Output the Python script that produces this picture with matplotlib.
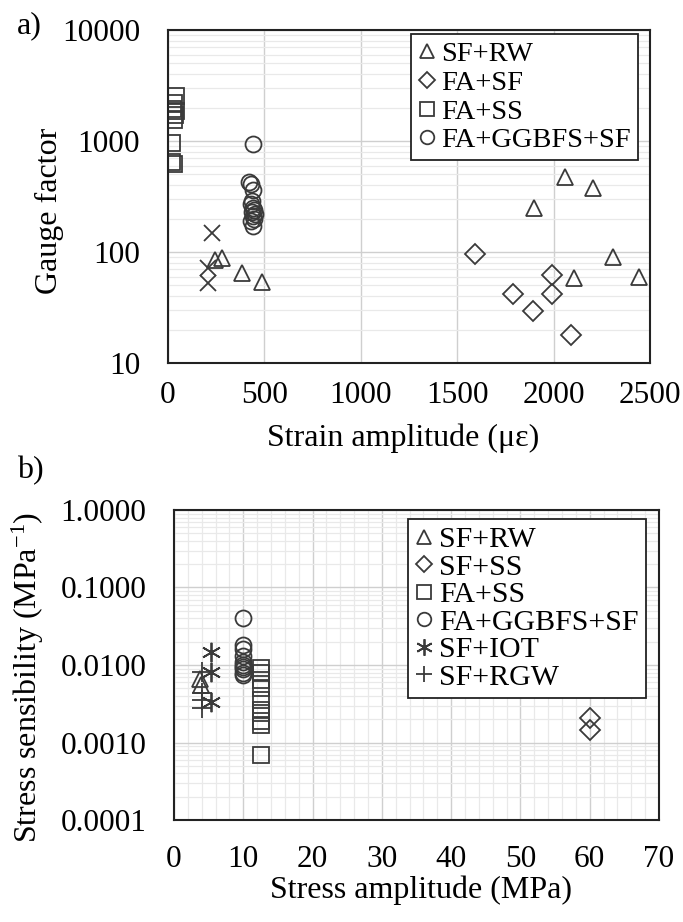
import matplotlib

matplotlib.use("Agg")
import matplotlib.pyplot as plt
from matplotlib.ticker import FixedLocator, LogLocator, MultipleLocator, NullFormatter

plt.rcParams["font.family"] = ["Liberation Serif", "DejaVu Serif"]
plt.rcParams["mathtext.fontset"] = "custom"
plt.rcParams["mathtext.rm"] = "Liberation Serif"
plt.rcParams["mathtext.it"] = "Liberation Serif:italic"

# (a) gauge factor vs strain amplitude
sf_rw_strain = [244, 280, 384, 487, 1898, 2059, 2204, 2308, 2106, 2443]
sf_rw_gf = [85, 88, 65, 54, 249, 474, 377, 90, 58, 60]
fa_sf_strain = [1592, 1992, 1790, 1992, 1893, 2090]
fa_sf_gf = [96, 62, 42, 42, 29.4, 17.9]
fa_ss_strain = [40, 30, 25, 40, 35, 30, 20, 20, 30]
fa_ss_gf = [2550, 2200, 1950, 1850, 1700, 1550, 950, 650, 620]
ggbfs_strain = [440, 420, 430, 440, 435, 430, 440, 445, 435, 450, 440, 445, 430, 440]
ggbfs_gf = [930, 430, 410, 360, 290, 270, 250, 240, 230, 220, 210, 200, 190, 170]
other_strain = [228, 207, 208]
other_gf = [148, 72, 52.5]

# (b) stress sensibility vs stress amplitude
sf_rw_stress = [3.8, 3.9]
sf_rw_sens = [0.0065, 0.0056]
sf_ss_stress = [60, 60]
sf_ss_sens = [0.0021, 0.00145]
fa_ss_stress = [12.5] * 10
fa_ss_sens = [0.0091, 0.0079, 0.0064, 0.0050, 0.0035, 0.0026, 0.0024, 0.0019, 0.0017, 0.00069]
ggbfs_stress = [10] * 10
ggbfs_sens = [0.040, 0.018, 0.016, 0.013, 0.011, 0.010, 0.0095, 0.009, 0.008, 0.0075]
sf_iot_stress = [5.3, 5.3, 5.3]
sf_iot_sens = [0.0147, 0.0081, 0.0033]
sf_rgw_stress = [4.0, 4.0, 4.0, 4.0]
sf_rgw_sens = [0.0081, 0.0043, 0.0035, 0.0028]

EDGE = "#3a3a3a"
TICK_FS = 22.5
LABEL_FS = 23


def hollow(marker, ms):
    return dict(
        linestyle="none",
        marker=marker,
        markersize=ms,
        markerfacecolor="none",
        markeredgecolor=EDGE,
        markeredgewidth=1.3,
    )


def style_axes(ax, minor_x):
    ax.set_yscale("log")
    ax.yaxis.set_minor_locator(LogLocator(base=10, subs=range(2, 10)))
    ax.yaxis.set_minor_formatter(NullFormatter())
    ax.grid(True, which="major", color="#cfcfcf", lw=1.0)
    ax.grid(True, which="minor", axis="y", color="#e9e9e9", lw=0.9)
    if minor_x:
        ax.grid(True, which="minor", axis="x", color="#e9e9e9", lw=0.9)
    ax.set_axisbelow(True)
    ax.tick_params(which="both", length=0, labelsize=TICK_FS)
    for s in ax.spines.values():
        s.set_linewidth(1.5)
        s.set_color("#222222")


def boxed_legend(ax, x_px, y_px, fs, spacing):
    leg = ax.legend(
        loc="upper left",
        bbox_to_anchor=(x_px / 683, 1 - y_px / 922),
        bbox_transform=fig.transFigure,
        borderaxespad=0,
        fontsize=fs,
        markerscale=0.85,
        handlelength=0.6,
        handletextpad=0.2,
        labelspacing=spacing,
        borderpad=0.25,
        fancybox=False,
        framealpha=1,
        edgecolor="#222222",
    )
    leg.get_frame().set_linewidth(1.3)
    return leg


fig = plt.figure(figsize=(6.83, 9.22), dpi=100)

# panel a
ax1 = fig.add_axes([168 / 683, 1 - 363 / 922, 482 / 683, 333 / 922])
ax1.plot(sf_rw_strain, sf_rw_gf, label="SF+RW", **hollow("^", 12))
ax1.plot(fa_sf_strain, fa_sf_gf, label="FA+SF", **hollow("D", 10))
ax1.plot(fa_ss_strain, fa_ss_gf, label="FA+SS", **hollow("s", 11.5))
ax1.plot(ggbfs_strain, ggbfs_gf, label="FA+GGBFS+SF", **hollow("o", 11.5))
ax1.plot(other_strain, other_gf, label="_nolegend_", **hollow("x", 12))
style_axes(ax1, minor_x=False)
ax1.set_xlim(0, 2500)
ax1.set_ylim(10, 10000)
ax1.xaxis.set_major_locator(MultipleLocator(500))
ax1.yaxis.set_major_locator(FixedLocator([10, 100, 1000, 10000]))
ax1.set_yticklabels(["10", "100", "1000", "10000"])
ax1.tick_params(axis="y", pad=20)
ax1.tick_params(axis="x", pad=13)
boxed_legend(ax1, 411, 34, 20.5, 0.1)

fig.text(29 / 683, 1 - 26 / 922, "a)", fontsize=LABEL_FS, ha="center", va="center")
fig.text(49 / 683, 1 - 211 / 922, "Gauge factor", fontsize=LABEL_FS,
         rotation=90, ha="center", va="center")
fig.text(403 / 683, 1 - 438 / 922, "Strain amplitude (\u03bc\u03b5)", fontsize=LABEL_FS,
         ha="center", va="center")

# panel b
ax2 = fig.add_axes([174 / 683, 1 - 820 / 922, 485 / 683, 310 / 922])
ax2.plot(sf_rw_stress, sf_rw_sens, label="SF+RW", **hollow("^", 12))
ax2.plot(sf_ss_stress, sf_ss_sens, label="SF+SS", **hollow("D", 10))
ax2.plot(fa_ss_stress, fa_ss_sens, label="FA+SS", **hollow("s", 11.5))
ax2.plot(ggbfs_stress, ggbfs_sens, label="FA+GGBFS+SF", **hollow("o", 11.5))
ax2.plot(sf_iot_stress, sf_iot_sens, label="SF+IOT", **hollow((6, 2, 0), 14))
ax2.plot(sf_rgw_stress, sf_rgw_sens, label="SF+RGW", **hollow("+", 14))
style_axes(ax2, minor_x=True)
ax2.set_xlim(0, 70)
ax2.set_ylim(0.0001, 1)
ax2.xaxis.set_major_locator(MultipleLocator(10))
ax2.xaxis.set_minor_locator(MultipleLocator(2))
ax2.yaxis.set_major_locator(FixedLocator([0.0001, 0.001, 0.01, 0.1, 1]))
ax2.set_yticklabels(["0.0001", "0.0010", "0.0100", "0.1000", "1.0000"])
ax2.tick_params(axis="y", pad=20)
ax2.tick_params(axis="x", pad=18)
boxed_legend(ax2, 408, 519, 21.5, 0.02)

fig.text(30 / 683, 1 - 471 / 922, "b)", fontsize=LABEL_FS, ha="center", va="center")
fig.text(28 / 683, 1 - 677 / 922, "Stress sensibility (MPa$^{-1}$)", fontsize=LABEL_FS,
         rotation=90, ha="center", va="center")
fig.text(421 / 683, 1 - 890 / 922, "Stress amplitude (MPa)", fontsize=LABEL_FS,
         ha="center", va="center")

fig.savefig("out.png", dpi=100)
